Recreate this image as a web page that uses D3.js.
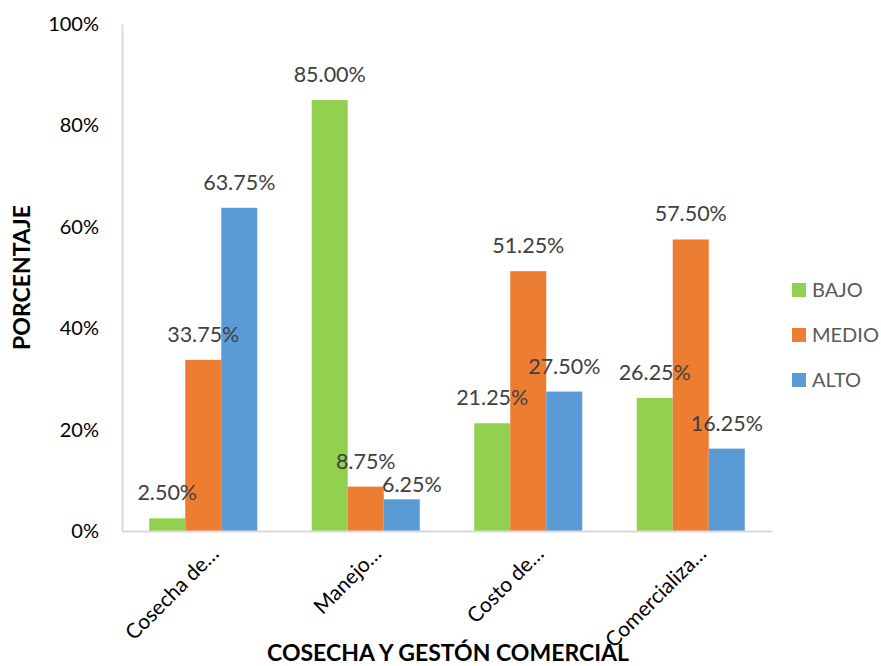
<!DOCTYPE html>
<html>
<head>
<meta charset="utf-8">
<script src="https://cdn.jsdelivr.net/npm/d3@7"></script>
<style>
	body { margin: 0; background: #fff; }
	svg text { font-family: Lato, "Open Sans", sans-serif; }
</style>
</head>
<body>
<div id="chart"></div>
<script>
// datos del grafico
const categories = ['Cosecha de…', 'Manejo…', 'Costo de…', 'Comercializa…'];
const seriesNames = ['BAJO', 'MEDIO', 'ALTO'];
const bajo = [2.5, 85.0, 21.25, 26.25];
const medio = [33.75, 8.75, 51.25, 57.5];
const alto = [63.75, 6.25, 27.5, 16.25];
const yTicks = [0, 20, 40, 60, 80, 100];
const colors = ['#92D050', '#ED7D31', '#5B9BD5'];
// etiqueta movida a mano en el original: 'categoria|serie' -> [dx, dy]
const labelNudge = {
	'Manejo…|ALTO': [10, 11]
};

const width = 881;
const height = 666;
const margins = { top: 24, left: 122, right: 109, bottom: 135 };

let svg = d3.select('#chart').append('svg')
	.attr('width', width)
	.attr('height', height);

let x0 = d3.scaleBand()
	.domain(categories)
	.range([margins.left, width - margins.right])
	.paddingInner(0.335)
	.paddingOuter(0.1675);
let x1 = d3.scaleBand()
	.domain(seriesNames)
	.range([0, x0.bandwidth()]);
let y = d3.scaleLinear()
	.domain([0, 100])
	.range([height - margins.bottom, margins.top]);

let series = [bajo, medio, alto];
let rows = categories.map((c, i) => ({ cat: c, vals: seriesNames.map((s, j) => ({ cat: c, s: s, v: series[j][i], c: colors[j] })) }));

// ejes
let yAxis = d3.axisLeft(y).tickValues(yTicks).tickFormat(d => d + '%').tickSize(0).tickPadding(23);
let gY = svg.append('g')
	.attr('transform', `translate(${margins.left},0)`)
	.call(yAxis);
gY.select('.domain').attr('stroke', '#d9d9d9').attr('stroke-width', 2);
gY.selectAll('text').attr('font-size', '20px').attr('fill', '#000').attr('font-family', 'Lato, sans-serif');

// barras
let groups = svg.append('g').selectAll('g')
	.data(rows)
	.join('g')
	.attr('transform', d => `translate(${x0(d.cat)},0)`);
groups.selectAll('rect')
	.data(d => d.vals)
	.join('rect')
	.attr('x', d => x1(d.s))
	.attr('y', d => y(d.v))
	.attr('width', x1.bandwidth())
	.attr('height', d => y(0) - y(d.v))
	.attr('fill', d => d.c);

let gX = svg.append('g')
	.attr('transform', `translate(0,${y(0)})`)
	.call(d3.axisBottom(x0).tickSize(0).tickFormat(''));
gX.select('.domain').attr('stroke', '#d9d9d9').attr('stroke-width', 2);

// etiquetas de valores
let nudge = d => labelNudge[d.cat + '|' + d.s] || [0, 0];
groups.selectAll('text.val')
	.data(d => d.vals)
	.join('text')
	.attr('class', 'val')
	.attr('x', d => x1(d.s) + x1.bandwidth() / 2 + nudge(d)[0])
	.attr('y', d => y(d.v) - 18 + nudge(d)[1])
	.attr('text-anchor', 'middle')
	.attr('font-size', '21.5px')
	.attr('fill', '#404040')
	.text(d => d.v.toFixed(2) + '%');

// etiquetas de categoria
svg.append('g').selectAll('text')
	.data(categories)
	.join('text')
	.attr('transform', d => `translate(${x0(d) + x0.bandwidth() / 2 + 17},${y(0) + 24}) rotate(-45)`)
	.attr('text-anchor', 'end')
	.attr('font-size', '21px')
	.attr('fill', '#000')
	.text(d => d);

// titulos
svg.append('text')
	.attr('transform', `translate(30,${(y(0) + y(100)) / 2}) rotate(-90)`)
	.attr('text-anchor', 'middle')
	.attr('font-size', '23px')
	.attr('font-weight', 'bold')
	.attr('fill', '#000')
	.text('PORCENTAJE');
svg.append('text')
	.attr('x', 448)
	.attr('y', 661)
	.attr('text-anchor', 'middle')
	.attr('font-size', '23px')
	.attr('font-weight', 'bold')
	.attr('fill', '#000')
	.text('COSECHA Y GESTÓN COMERCIAL');

// leyenda
let legend = svg.append('g').selectAll('g')
	.data(seriesNames)
	.join('g')
	.attr('transform', (d, i) => `translate(792,${283 + i * 45})`);
legend.append('rect')
	.attr('width', 14)
	.attr('height', 14)
	.attr('fill', (d, i) => colors[i]);
legend.append('text')
	.attr('x', 20)
	.attr('y', 14)
	.attr('font-size', '20px')
	.attr('fill', '#595959')
	.text(d => d);
</script>
</body>
</html>
